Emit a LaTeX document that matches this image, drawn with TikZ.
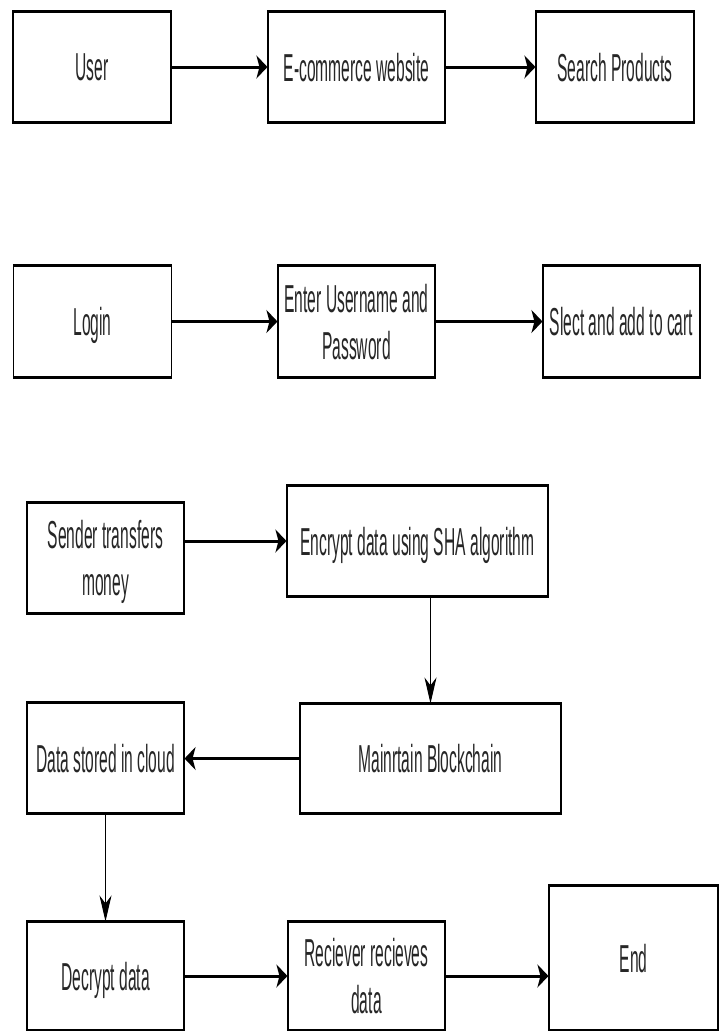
\documentclass[tikz,border=0pt]{standalone}
\usepackage{fontspec}
\usetikzlibrary{arrows.meta,positioning}
\newfontfamily\boxfont{Liberation Sans}[FakeStretch=0.40]
\tikzstyle{procbox} = [draw=black, line width=1.1pt, inner sep=0pt, align=center, text depth=0pt,
    text=black!85, font=\boxfont\fontsize{39}{47}\selectfont,
    append after command={(\tikzlastnode.north west) edge[line width=2.6pt, -] (\tikzlastnode.north east)
                          (\tikzlastnode.south west) edge[line width=2.6pt, -] (\tikzlastnode.south east)}]
\tikzstyle{harrow} = [line width=3pt, -{Stealth[length=11pt, width=23pt, inset=3pt]}]
\tikzstyle{varrow} = [line width=1pt, -{Stealth[length=26pt, width=12pt, inset=8pt]}]

\begin{document}
\begin{tikzpicture}[x=1pt, y=-1pt]
            \useasboundingbox (0,0) rectangle (725,1031);
            % shopping part
            \node [procbox, minimum width=158pt, minimum height=110pt] (usr)  at (92,67)      {User};
            \node [procbox, minimum width=177pt, minimum height=110pt] (ecom) at (356.5,67)   {E-commerce website};
            \node [procbox, minimum width=158pt, minimum height=110pt] (srch) at (615,67)     {Search Products};
            \node [procbox, minimum width=158pt, minimum height=111pt] (lgn)  at (92.5,321.5) {Login};
            \node [procbox, minimum width=157pt, minimum height=111pt] (cred) at (356.5,321.5) {Enter Username and\\Password};
            \node [procbox, minimum width=157pt, minimum height=111pt] (cart) at (621.5,321.5) {Slect and add to cart};
            % payment part
            \node [procbox, minimum width=157pt, minimum height=110pt] (sndr)  at (105.5,558)  {Sender transfers\\money};
            \node [procbox, minimum width=261pt, minimum height=110pt] (encr)  at (417.5,541)  {Encrypt data using SHA algorithm};
            \node [procbox, minimum width=261pt, minimum height=109pt] (chain) at (430.5,758.5) {Mainrtain Blockchain};
            \node [procbox, minimum width=157pt, minimum height=110pt] (cloud) at (105.5,758)  {Data stored in cloud};
            \node [procbox, minimum width=157pt, minimum height=108pt] (decr)  at (105.5,976)  {Decrypt data};
            \node [procbox, minimum width=157pt, minimum height=108pt] (rcvr)  at (366.5,976)  {Reciever recieves\\data};
            \node [procbox, minimum width=169pt, minimum height=144pt] (fin)   at (633.5,958)  {End};

            \draw [harrow] (usr.east) -- (ecom.west);
            \draw [harrow] (ecom.east) -- (srch.west);
            \draw [harrow] (lgn.east) -- (cred.west);
            \draw [harrow] (cred.east) -- (cart.west);
            \draw [harrow] (sndr.east |- encr.west) -- (encr.west);
            \draw [varrow] (encr.south -| chain.north) -- (chain.north);
            \draw [harrow] (chain.west) -- (chain.west -| cloud.east);
            \draw [varrow] (cloud.south) -- (decr.north);
            \draw [harrow] (decr.east) -- (rcvr.west);
            \draw [harrow] (rcvr.east) -- (rcvr.east -| fin.west);
\end{tikzpicture}
\end{document}
